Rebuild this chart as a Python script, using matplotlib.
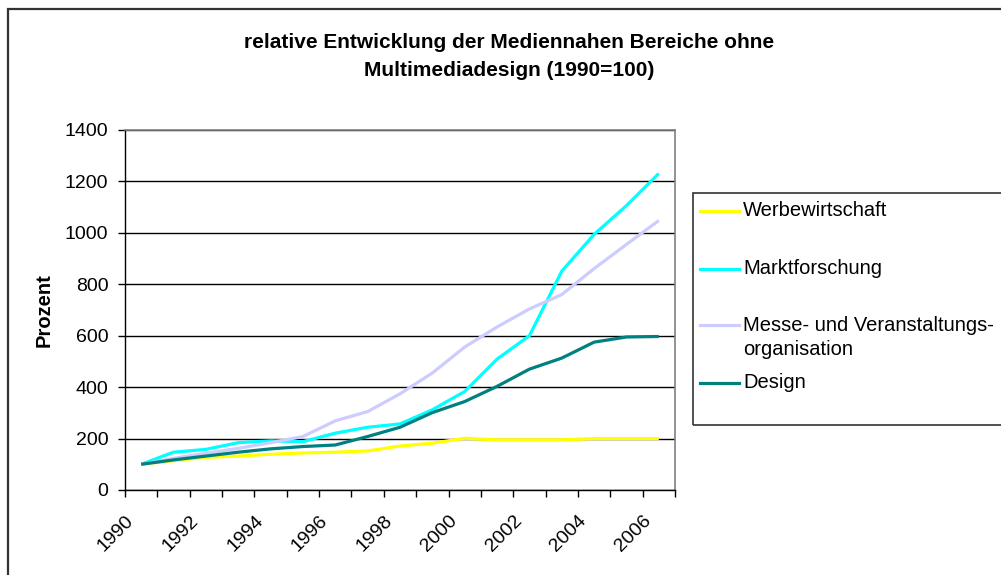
import matplotlib
matplotlib.use("Agg")
import matplotlib.pyplot as plt
from matplotlib.lines import Line2D
from matplotlib.patches import Rectangle
from matplotlib.transforms import ScaledTranslation

plt.rcParams['font.family'] = ['Liberation Sans', 'DejaVu Sans']

years = list(range(1990, 2007))
tick_years = ['1990', '1992', '1994', '1996', '1998', '2000', '2002', '2004', '2006']

werbewirtschaft = [100, 114, 127, 132, 139, 144, 147, 152, 171, 182, 201, 195, 195, 195, 200, 200, 200]
marktforschung = [100, 147, 158, 184, 191, 188, 221, 244, 257, 312, 383, 509, 600, 851, 994, 1106, 1231]
messe = [100, 123, 143, 162, 184, 208, 269, 305, 374, 455, 556, 634, 704, 760, 861, 955, 1048]
design = [100, 117, 132, 147, 160, 169, 175, 208, 244, 301, 344, 403, 470, 513, 575, 595, 597]

series = [
    ("Werbewirtschaft", werbewirtschaft, "#FFFF00"),
    ("Marktforschung", marktforschung, "#00FFFF"),
    ("Messe- und Veranstaltungs-\norganisation", messe, "#CCCCFF"),
    ("Design", design, "#008080"),
]

W, H = 1001, 575
fig = plt.figure(figsize=(W / 100, H / 100), dpi=100)

# outer chart frame (cut off at right and bottom like the screenshot)
fig.patches.append(Rectangle((8 / W, -0.05), 1.1, 1 - 9 / H + 0.05, transform=fig.transFigure,
                             fill=False, edgecolor='#333333', lw=1.6))

ax = fig.add_axes([125 / W, 1 - 490 / H, 550 / W, 360 / H])
x = list(range(len(years)))
for name, vals, col in series:
    ax.plot(x, vals, color=col, lw=2.3, solid_capstyle='butt', zorder=3)

ax.set_xlim(-0.5, len(years) - 0.5)
ax.set_ylim(0, 1400)
ax.set_yticks(range(0, 1401, 200))
ax.tick_params(axis='y', direction='out', length=5, width=1, labelsize=14, pad=7)
ax.yaxis.grid(True, color='black', lw=1)
ax.set_axisbelow(True)

# category axis: ticks between categories, labels on every second category
ax.set_xticks(x[::2])
ax.set_xticklabels(tick_years, rotation=45, ha='right', rotation_mode='anchor')
ax.set_xticks([i - 0.5 for i in range(len(years) + 1)], minor=True)
ax.tick_params(axis='x', which='major', length=0, labelsize=14, pad=16)
ax.tick_params(axis='x', which='minor', direction='out', length=5, width=1)
shift = ScaledTranslation(-16 / 100, 0, fig.dpi_scale_trans)
for lab in ax.get_xticklabels():
    lab.set_transform(lab.get_transform() + shift)

for s in ['top', 'right']:
    ax.spines[s].set_color('#808080')
    ax.spines[s].set_linewidth(1.2)
for s in ['left', 'bottom']:
    ax.spines[s].set_color('black')
    ax.spines[s].set_linewidth(1)

ax.set_ylabel("Prozent", fontsize=14.5, fontweight='bold', labelpad=8)

fig.text(509 / W, 1 - 42 / H, "relative Entwicklung der Mediennahen Bereiche ohne",
         ha='center', va='center', fontsize=15, fontweight='bold')
fig.text(509 / W, 1 - 70 / H, "Multimediadesign (1990=100)",
         ha='center', va='center', fontsize=15, fontweight='bold')

# legend box
fig.patches.append(Rectangle((693 / W, 1 - 425 / H), 0.5, 232 / H, transform=fig.transFigure,
                             fill=False, edgecolor='#333333', lw=1.2))
entry_y = [211, 269, 325, 383]
for (name, vals, col), yy in zip(series, entry_y):
    fig.lines.append(Line2D([700 / W, 739 / W], [1 - yy / H, 1 - yy / H], transform=fig.transFigure,
                            color=col, lw=2.3))
    if '\n' in name:
        fig.text(743 / W, 1 - (yy - 9) / H, name, ha='left', va='top', fontsize=14.5,
                 linespacing=1.35)
    else:
        fig.text(743 / W, 1 - yy / H, name, ha='left', va='center', fontsize=14.5)

fig.savefig("out.png", dpi=100)
